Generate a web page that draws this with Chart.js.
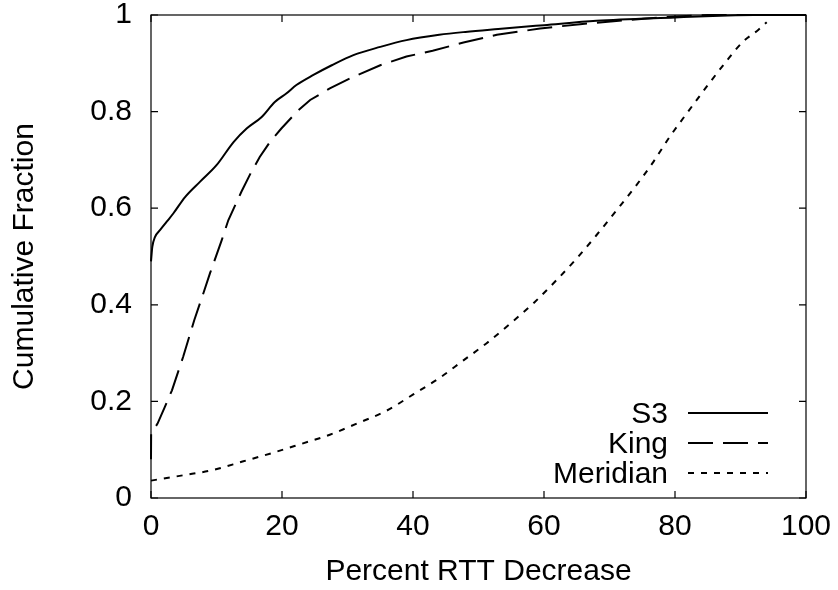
<!DOCTYPE html>
<html>
<head>
<meta charset="utf-8">
<script src="https://cdn.jsdelivr.net/npm/chart.js@4/dist/chart.umd.min.js"></script>
<style>
  html, body { margin: 0; padding: 0; background: #fff; }
  canvas { display: block; }
</style>
</head>
<body>
<canvas id="c" width="838" height="590"></canvas>
<script>
// CDF of percent RTT decrease for three latency-estimation schemes
const s3X = [0, 0.2, 0.6, 1.4, 2.4, 3.4, 5.2, 7.5, 10, 12.6, 14.6, 16.9, 18.9, 20.7, 22.2, 24.8, 27.6, 30.9, 35, 39, 44, 48, 53, 60, 68, 80, 88, 92, 100];
const s3Y = [0.49, 0.52, 0.54, 0.555, 0.572, 0.589, 0.623, 0.655, 0.689, 0.737, 0.765, 0.789, 0.82, 0.838, 0.855, 0.876, 0.896, 0.917, 0.934, 0.948, 0.959, 0.965, 0.971, 0.979, 0.988, 0.995, 0.999, 1, 1];

const kingX = [0, 0.02, 1.0, 2.1, 3.2, 4.9, 6.6, 7.8, 9.0, 10.8, 11.8, 13.8, 15.2, 16.6, 18.2, 19.9, 22.5, 24.3, 27.3, 30.9, 35, 39, 43, 47.7, 52.8, 59.4, 65.5, 73.1, 80, 85, 100];
const kingY = [0.08, 0.134, 0.154, 0.188, 0.223, 0.292, 0.368, 0.416, 0.465, 0.534, 0.575, 0.634, 0.672, 0.706, 0.738, 0.765, 0.803, 0.824, 0.848, 0.872, 0.896, 0.914, 0.926, 0.943, 0.959, 0.972, 0.981, 0.990, 0.997, 1, 1];

const meridianX = [0, 4.9, 9.5, 14.1, 18.7, 22.7, 27.3, 31.4, 36, 40.1, 44.1, 47.7, 51.2, 55.1, 58.6, 61.9, 65, 68, 71.1, 73.9, 76.7, 79.2, 82, 84.8, 87.6, 90.4, 92.7, 94];
const meridianY = [0.036, 0.047, 0.058, 0.076, 0.094, 0.111, 0.131, 0.154, 0.181, 0.215, 0.249, 0.285, 0.320, 0.364, 0.406, 0.451, 0.496, 0.544, 0.596, 0.644, 0.696, 0.748, 0.800, 0.851, 0.900, 0.945, 0.969, 0.985];

const seriesNames = ['S3', 'King', 'Meridian'];
const xTicks = [0, 20, 40, 60, 80, 100];
const yTicks = [0, 0.2, 0.4, 0.6, 0.8, 1];

const FONT = '"Liberation Sans", Arial, Helvetica, sans-serif';
const FSIZE = 30;

const pts = (xs, ys) => xs.map((x, i) => ({ x, y: ys[i] }));

// Closed border box with inward ticks on all four sides
const frame = {
  id: 'frame',
  afterDraw(chart) {
    const { ctx, chartArea: a, scales: { x, y } } = chart;
    const len = 7;
    ctx.save();
    ctx.strokeStyle = '#000';
    ctx.lineWidth = 1.2;
    ctx.beginPath();
    xTicks.forEach(v => {
      const px = x.getPixelForValue(v);
      ctx.moveTo(px, a.bottom); ctx.lineTo(px, a.bottom - len);
      ctx.moveTo(px, a.top); ctx.lineTo(px, a.top + len);
    });
    yTicks.forEach(v => {
      const py = y.getPixelForValue(v);
      ctx.moveTo(a.left, py); ctx.lineTo(a.left + len, py);
      ctx.moveTo(a.right, py); ctx.lineTo(a.right - len, py);
    });
    ctx.stroke();
    ctx.strokeRect(a.left, a.top, a.right - a.left, a.bottom - a.top);
    ctx.restore();
  }
};

// Key in the lower right: right-aligned names followed by line samples
const key = {
  id: 'key',
  afterDraw(chart) {
    const { ctx, chartArea: a } = chart;
    const textRight = a.right - 138;
    const x0 = a.right - 118, x1 = a.right - 38;
    ctx.save();
    ctx.font = FSIZE + 'px ' + FONT;
    ctx.fillStyle = '#000';
    ctx.textAlign = 'right';
    ctx.textBaseline = 'middle';
    chart.data.datasets.forEach((ds, i) => {
      const yy = a.bottom - 85 + i * 30;
      ctx.fillText(ds.label, textRight, yy + 2);
      ctx.strokeStyle = ds.borderColor;
      ctx.lineWidth = ds.borderWidth;
      ctx.setLineDash(ds.borderDash || []);
      ctx.beginPath();
      ctx.moveTo(x0, yy);
      ctx.lineTo(x1, yy);
      ctx.stroke();
    });
    ctx.restore();
  }
};

new Chart(document.getElementById('c'), {
  type: 'scatter',
  data: {
    datasets: [
      { label: seriesNames[0], data: pts(s3X, s3Y), borderColor: '#000', borderWidth: 2, borderDash: [], cubicInterpolationMode: 'monotone' },
      { label: seriesNames[1], data: pts(kingX, kingY), borderColor: '#000', borderWidth: 2, borderDash: [25, 10], tension: 0 },
      { label: seriesNames[2], data: pts(meridianX, meridianY), borderColor: '#000', borderWidth: 2, borderDash: [6, 7], cubicInterpolationMode: 'monotone' }
    ].map(d => Object.assign(d, {
      showLine: true,
      pointRadius: 0,
      pointHoverRadius: 0,
      backgroundColor: '#000',
      clip: 4
    }))
  },
  options: {
    responsive: false,
    animation: false,
    events: [],
    layout: { padding: { left: 0, right: 32, top: 15, bottom: 0 } },
    plugins: {
      legend: { display: false },
      tooltip: { enabled: false }
    },
    scales: {
      x: {
        type: 'linear',
        min: 0, max: 100,
        afterFit: s => { s.height = 92; s.paddingLeft = 0; s.paddingRight = 0; },
        afterBuildTicks: s => { s.ticks = xTicks.map(v => ({ value: v })); },
        grid: { display: false, drawTicks: false },
        border: { display: false },
        ticks: { padding: 11, color: '#000', font: { family: FONT, size: FSIZE }, maxRotation: 0, autoSkip: false },
        title: { display: true, text: 'Percent RTT Decrease', color: '#000', font: { family: FONT, size: FSIZE }, padding: { top: 0, bottom: 0 } }
      },
      y: {
        type: 'linear',
        min: 0, max: 1,
        afterFit: s => { s.width = 151; s.paddingTop = 0; s.paddingBottom = 0; },
        afterBuildTicks: s => { s.ticks = yTicks.map(v => ({ value: v })); },
        grid: { display: false, drawTicks: false },
        border: { display: false },
        ticks: { padding: 19, color: '#000', font: { family: FONT, size: FSIZE }, callback: v => String(+v.toFixed(1)), autoSkip: false },
        title: { display: true, text: 'Cumulative Fraction', color: '#000', font: { family: FONT, size: FSIZE }, padding: { top: 7, bottom: 0 } }
      }
    }
  },
  plugins: [frame, key]
});
</script>
</body>
</html>
